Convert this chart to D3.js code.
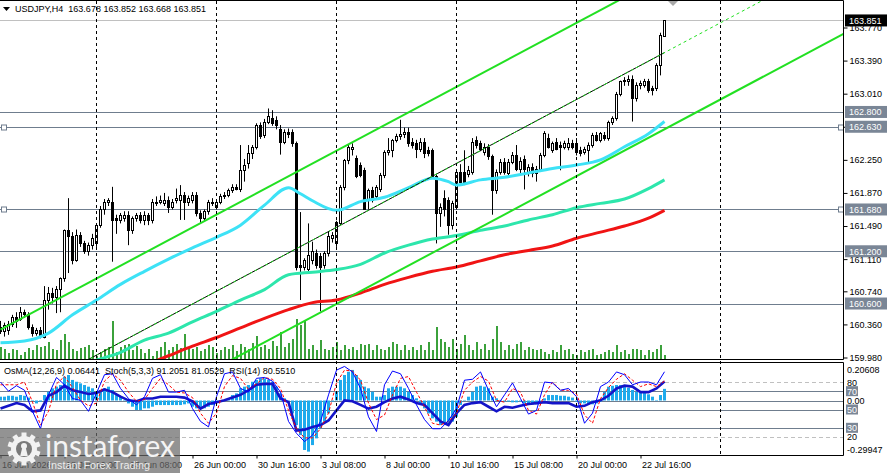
<!DOCTYPE html>
<html lang="en">
<head>
<meta charset="UTF-8">
<title>USDJPY,H4</title>
<script src="https://cdnjs.cloudflare.com/ajax/libs/d3/7.8.5/d3.min.js"></script>
<style>
body { margin: 0; background: #fff; }
svg { display: block; font-family: "Liberation Sans", Arial, sans-serif; font-size: 9px; }
</style>
</head>
<body>
<div id="chart"></div>
<script>
// ---- candles, one per H4 bar (16 Jun 00:00 .. 23 Jul 16:00) ----
var opens = [160.33,160.28,160.30,160.37,160.44,160.42,160.50,160.48,160.33,160.26,160.30,
  160.22,160.64,160.72,160.68,160.77,160.89,161.44,161.37,161.10,161.39,
  161.29,161.20,161.27,161.29,161.50,161.69,161.77,161.77,161.58,161.56,
  161.58,161.62,161.44,161.58,161.62,161.56,161.62,161.56,161.75,161.77,
  161.75,161.79,161.71,161.79,161.79,161.85,161.77,161.79,161.85,161.64,
  161.58,161.66,161.75,161.71,161.77,161.83,161.85,161.90,161.94,161.92,
  162.13,162.21,162.33,162.40,162.65,162.54,162.69,162.73,162.71,162.61,
  162.46,162.57,162.57,162.44,161.04,161.02,161.00,161.10,161.18,161.14,
  161.04,161.18,161.35,161.29,161.52,161.94,162.25,162.38,162.27,162.19,
  162.13,161.79,161.90,161.83,161.92,162.08,162.34,162.36,162.48,162.52,
  162.55,162.57,162.46,162.44,162.38,162.46,162.36,162.36,162.06,161.64,
  161.81,161.79,161.50,161.71,162.11,162.11,162.09,162.11,162.48,162.44,
  162.34,162.40,162.29,161.90,162.11,162.23,162.10,162.23,162.31,162.15,
  162.26,162.10,162.17,162.10,162.15,162.31,162.50,162.36,162.46,162.42,
  162.40,162.40,162.44,162.44,162.36,162.34,162.36,162.42,162.54,162.48,
  162.54,162.50,162.69,162.73,163.01,163.15,163.15,163.18,162.96,163.11,
  163.11,163.15,163.07,163.07,163.34,163.678];
var highs = [160.40,160.38,160.40,160.47,160.50,160.56,160.53,160.50,160.36,160.32,160.33,
  160.80,160.79,160.78,160.80,160.90,161.45,161.81,161.42,161.45,161.42,
  161.32,161.30,161.40,161.52,161.72,161.80,161.81,161.94,161.62,161.64,
  161.66,161.66,161.60,161.64,161.65,161.66,161.64,161.80,161.83,161.84,
  161.87,161.83,161.80,161.92,161.96,161.88,161.84,161.88,161.88,161.67,
  161.68,161.79,161.81,161.80,161.86,161.88,161.92,161.97,161.97,162.42,
  162.26,162.42,162.42,162.67,162.68,162.72,162.84,162.82,162.75,162.65,
  162.60,162.61,162.60,162.46,161.65,161.12,161.52,161.31,161.22,161.18,
  161.20,161.43,161.42,161.55,161.96,162.26,162.42,162.44,162.30,162.22,
  162.16,161.92,161.94,161.96,162.10,162.36,162.50,162.49,162.55,162.71,
  162.62,162.62,162.50,162.48,162.50,162.50,162.40,162.38,162.08,161.75,
  161.90,161.82,161.78,162.14,162.20,162.36,162.18,162.50,162.52,162.47,
  162.44,162.43,162.31,162.14,162.26,162.27,162.26,162.34,162.42,162.28,
  162.30,162.20,162.21,162.18,162.33,162.58,162.55,162.46,162.50,162.46,
  162.47,162.50,162.48,162.50,162.40,162.40,162.45,162.56,162.57,162.57,
  162.57,162.70,162.75,163.03,163.16,163.20,163.22,163.22,163.14,163.16,
  163.18,163.18,163.10,163.36,163.71,163.852];
var lows = [160.25,160.22,160.24,160.33,160.32,160.40,160.44,160.30,160.22,160.23,160.20,
  160.20,160.53,160.60,160.49,160.50,160.85,160.95,161.05,161.08,161.25,
  161.17,161.15,161.22,161.25,161.47,161.62,161.72,161.08,161.40,161.52,
  161.54,161.27,161.40,161.54,161.52,161.50,161.50,161.52,161.72,161.74,
  161.72,161.64,161.68,161.75,161.56,161.56,161.72,161.75,161.60,161.52,
  161.54,161.62,161.72,161.68,161.74,161.80,161.82,161.87,161.90,161.88,
  162.00,162.15,162.26,162.37,162.49,162.50,162.66,162.64,162.60,162.31,
  162.43,162.50,162.40,160.98,160.64,160.98,160.96,161.05,161.00,160.51,
  161.00,161.14,161.30,161.25,161.50,161.90,162.20,162.30,162.04,162.05,
  161.68,161.68,161.76,161.80,161.88,162.04,162.30,162.28,162.45,162.48,
  162.50,162.40,162.38,162.27,162.34,162.27,162.29,162.04,161.29,161.48,
  161.60,161.39,161.45,161.68,161.95,161.96,162.05,162.08,162.38,162.35,
  162.30,162.25,161.62,161.86,162.08,162.08,162.05,162.20,162.12,162.10,
  161.91,162.06,162.05,162.00,162.12,162.28,162.38,162.33,162.36,162.13,
  162.37,162.36,162.37,162.30,162.29,162.31,162.21,162.39,162.46,162.45,
  162.47,162.47,162.65,162.70,162.98,163.10,163.10,162.69,162.92,163.06,
  163.08,163.02,162.99,163.04,163.22,163.668];
var closes = [160.28,160.35,160.37,160.44,160.40,160.50,160.48,160.33,160.26,160.30,160.24,
  160.64,160.72,160.68,160.77,160.89,161.44,161.37,161.10,161.39,161.29,
  161.20,161.27,161.35,161.50,161.69,161.77,161.79,161.56,161.56,161.62,
  161.62,161.44,161.58,161.62,161.56,161.62,161.56,161.77,161.77,161.79,
  161.79,161.71,161.77,161.81,161.85,161.77,161.81,161.85,161.64,161.58,
  161.66,161.77,161.77,161.77,161.83,161.85,161.90,161.94,161.92,162.13,
  162.19,162.33,162.40,162.65,162.52,162.69,162.75,162.67,162.65,162.46,
  162.57,162.55,162.44,161.02,161.02,161.10,161.16,161.20,161.04,161.02,
  161.18,161.37,161.39,161.54,161.94,162.25,162.40,162.40,162.06,162.08,
  161.69,161.90,161.79,161.94,162.08,162.34,162.36,162.48,162.52,162.55,
  162.57,162.44,162.42,162.38,162.46,162.33,162.33,162.06,161.64,161.71,
  161.69,161.50,161.75,162.11,162.00,162.00,162.13,162.46,162.42,162.38,
  162.40,162.29,161.90,162.11,162.23,162.11,162.23,162.31,162.15,162.24,
  162.15,162.17,162.10,162.15,162.31,162.56,162.40,162.44,162.38,162.40,
  162.44,162.44,162.40,162.34,162.33,162.38,162.42,162.54,162.48,162.56,
  162.50,162.69,162.73,163.01,163.15,163.17,163.18,162.96,163.11,163.13,
  163.15,163.05,163.05,163.34,163.68,163.851];

// tick volume per bar
var volumes = [12,10,6,10,9,4,7,11,9,14,12,
  13,17,10,9,19,25,17,10,8,11,
  12,14,9,3,7,10,12,38,7,12,
  14,15,9,13,10,6,10,3,8,12,
  17,9,12,15,11,25,12,10,12,8,
  10,14,12,6,9,12,10,14,8,15,
  12,10,16,23,12,14,10,18,13,27,
  12,16,20,40,34,39,10,14,9,19,
  10,9,12,17,9,14,10,12,9,15,
  14,15,9,14,10,9,12,17,15,9,
  14,9,12,9,14,9,17,9,32,20,
  17,12,20,10,15,24,14,9,17,10,
  15,9,20,33,17,9,14,10,15,17,
  9,12,10,9,10,7,5,9,7,14,
  9,10,5,4,9,7,9,10,4,5,
  7,9,7,14,7,9,5,10,10,9,
  4,9,7,10,14,4];

// OsMA(12,26,9) histogram per bar
var osma = [0.021,0.021,0.026,0.026,0.021,0.030,0.026,0.016,-0.003,-0.016,-0.006,
  0.030,0.048,0.067,0.076,0.085,0.131,0.140,0.113,0.103,0.094,
  0.085,0.076,0.067,0.048,0.058,0.067,0.076,0.058,0.030,0.021,
  0.003,-0.016,-0.034,-0.052,-0.052,-0.043,-0.043,-0.034,-0.025,-0.025,
  -0.025,-0.025,-0.025,-0.025,-0.025,-0.021,-0.016,-0.034,-0.043,-0.043,
  -0.043,-0.034,-0.025,-0.006,-0.006,-0.003,0.012,0.030,0.039,0.067,
  0.076,0.085,0.103,0.113,0.122,0.122,0.113,0.103,0.076,0.039,
  0.012,-0.006,-0.071,-0.135,-0.190,-0.272,-0.281,-0.245,-0.208,-0.153,
  -0.116,-0.071,-0.006,0.048,0.113,0.140,0.158,0.168,0.140,0.113,
  0.076,0.067,0.048,0.021,0.021,0.030,0.067,0.076,0.076,0.076,
  0.067,0.048,0.030,0.012,-0.025,-0.043,-0.071,-0.098,-0.116,-0.135,
  -0.126,-0.135,-0.116,-0.089,-0.025,0.003,0.021,0.048,0.076,0.081,
  0.076,0.067,0.021,0.012,0.003,-0.006,-0.006,-0.010,-0.010,-0.006,
  -0.016,-0.016,-0.021,-0.021,-0.016,0.012,0.030,0.030,0.030,0.026,
  0.026,0.021,0.016,-0.006,-0.016,-0.016,-0.021,-0.021,-0.016,-0.006,
  0.048,0.076,0.081,0.085,0.085,0.076,0.070,0.058,0.048,0.048,
  0.048,0.034,0.021,0.003,0.030,0.064];

// oscillators, read every second bar (bars 0,2,4,...,166)
var stochMain = [80,70,76,71,48,29,66,85,77,62,60,
  48,68,88,89,73,62,55,64,84,88,
  69,69,71,51,37,31,64,89,91,73,
  69,84,85,81,69,37,24,15,22,37,
  66,93,97,91,73,42,26,77,92,89,
  73,55,39,29,29,38,51,82,83,91,
  71,53,66,79,62,45,49,80,79,71,
  73,64,35,46,75,80,91,88,77,80,
  80,77,91.2];
var stochSignal = [77,77,77,80,58,33,48,78,86,74,60,
  54,57,81,89,82,69,59,61,73,84,
  77,69,68,63,46,35,46,75,87,84,
  72,78,85,83,73,49,29,19,19,29,
  46,79,93,92,82,57,39,44,66,84,
  86,69,53,35,33,37,46,71,80,86,
  81,60,58,73,69,49,45,66,80,71,
  71,67,44,35,62,74,83,89,82,75,
  78,75,81.05];
var rsi = [51,54,57,55,48,49,65,69,76,71,69,
  67,68,72,69,64,60,59,62,62,64,
  64,64,63,59,51,56,58,60,63,66,
  71,77,78,78,62,58,27,28,31,33,
  38,49,60,59,55,51,53,58,62,64,
  61,57,55,46,37,33,46,55,57,58,
  53,48,53,52,54,56,57,58,57,57,
  57,53,54,58,60,65,73,76,75,69,
  69,73,80.55];

// moving averages (bar, price)
var maCyanBars = [0,6,12,18,24,30,36,42,48,54,60,66,72,75,78,84,90,96,102,108,112,114,120,126,132,138,144,150,156,162,166];
var maCyan = [160.15,160.17,160.26,160.47,160.64,160.82,160.97,161.11,161.24,161.36,161.50,161.73,161.93,161.86,161.78,161.67,161.77,161.82,161.93,162.04,162.00,161.96,162.02,162.05,162.10,162.15,162.19,162.25,162.40,162.55,162.69];
var maGreenBars = [18,24,30,36,42,48,54,60,66,72,78,84,90,96,102,108,114,120,126,132,138,144,150,156,162,166];
var maGreen = [159.86,159.95,160.04,160.18,160.26,160.39,160.51,160.64,160.76,160.93,160.96,160.99,161.05,161.18,161.27,161.34,161.38,161.44,161.49,161.56,161.62,161.70,161.75,161.80,161.92,162.02];
var maRedBars = [36,42,48,54,60,66,72,78,84,90,96,102,108,114,120,126,132,138,144,150,156,162,166];
var maRed = [159.89,160.00,160.11,160.21,160.32,160.43,160.53,160.61,160.64,160.72,160.82,160.90,160.97,161.02,161.09,161.16,161.21,161.26,161.35,161.42,161.49,161.58,161.67];

// equidistant channel, two anchor bars
var channelBars = [0, 150];
var channelUpper = [160.30, 163.97];
var channelMid = [159.42, 163.09];
var channelLower = [158.54, 162.21];

var levels = [162.800, 162.630, 161.680, 161.200, 160.600];
var markedLevels = [162.630, 161.680];
var lastPrice = 163.851;
var priceTicks = [163.770, 163.390, 163.010, 162.630, 162.250, 161.870, 161.490, 161.110, 160.740, 160.360, 159.980];
var timeTicks = [0, 16, 32, 48, 64, 80, 96, 112, 128, 144, 160];
var timeLabels = ["16 Jun 2026", "18 Jun 16:00", "23 Jun 08:00", "26 Jun 00:00", "30 Jun 16:00", "3 Jul 08:00",
  "8 Jul 00:00", "10 Jul 16:00", "15 Jul 08:00", "20 Jul 00:00", "22 Jul 16:00"];
var separators = [24, 54, 84, 114, 144, 180];

// ---- scales ----
var svg = d3.select("#chart").append("svg").attr("width", 887).attr("height", 473);

var x = d3.scaleLinear().domain([0, 210]).range([0.5, 840.5]);
var y = d3.scaleLinear().domain([159.98, 163.77]).range([357.5, 27.5]);
var yVol = d3.scaleLinear().domain([0, 100]).range([359, 259]);
var yOsc = d3.scaleLinear().domain([0, 100]).range([455.3, 363.7]);
var yOsma = d3.scaleLinear().domain([-0.29947, 0.20608]).range([455, 363]);
var slate = "#6f7d8e";

var defs = svg.append("defs");
defs.append("clipPath").attr("id", "clipMain").append("rect")
    .attr("x", 0).attr("y", 1).attr("width", 843).attr("height", 358);
defs.append("clipPath").attr("id", "clipInd").append("rect")
    .attr("x", 0).attr("y", 363).attr("width", 843).attr("height", 92);

var main = svg.append("g").attr("clip-path", "url(#clipMain)");
var ind = svg.append("g").attr("clip-path", "url(#clipInd)");

// week separators
svg.selectAll(".sep").data(separators).enter().append("line")
    .attr("x1", function(d) { return x(d); }).attr("x2", function(d) { return x(d); })
    .attr("y1", 1).attr("y2", 455)
    .attr("stroke", "#000").attr("stroke-dasharray", "3,3");

// volumes
main.selectAll(".vol").data(volumes).enter().append("line")
    .attr("x1", function(d, i) { return x(i) + 0.5; }).attr("x2", function(d, i) { return x(i) + 0.5; })
    .attr("y1", yVol(0)).attr("y2", function(d) { return yVol(d); })
    .attr("stroke", "#0a8a0a").attr("stroke-width", 1.6);

// bid line + levels
main.append("line").attr("x1", 0).attr("x2", 843)
    .attr("y1", Math.round(y(lastPrice)) + 0.5).attr("y2", Math.round(y(lastPrice)) + 0.5)
    .attr("stroke", "#c0c0c0");
main.selectAll(".lvl").data(levels).enter().append("line")
    .attr("x1", 0).attr("x2", 843)
    .attr("y1", function(d) { return Math.round(y(d)) + 0.5; })
    .attr("y2", function(d) { return Math.round(y(d)) + 0.5; })
    .attr("stroke", slate);
markedLevels.forEach(function(l) {
    [1.5, 838.5].forEach(function(px) {
        svg.append("rect").attr("x", px).attr("y", Math.round(y(l)) - 2)
            .attr("width", 5).attr("height", 5)
            .attr("fill", "#fff").attr("stroke", slate);
    });
});

// candles
var idx = d3.range(closes.length);
main.selectAll(".wick").data(idx).enter().append("line")
    .attr("x1", function(i) { return x(i); }).attr("x2", function(i) { return x(i); })
    .attr("y1", function(i) { return y(highs[i]); }).attr("y2", function(i) { return y(lows[i]); })
    .attr("stroke", "#000");
main.selectAll(".body").data(idx).enter().append("rect")
    .attr("x", function(i) { return x(i) - 1; })
    .attr("y", function(i) { return Math.round(y(Math.max(opens[i], closes[i]))) + 0.5; })
    .attr("width", 2)
    .attr("height", function(i) {
        return Math.max(0, Math.round(y(Math.min(opens[i], closes[i]))) - Math.round(y(Math.max(opens[i], closes[i]))));
    })
    .attr("fill", function(i) { return closes[i] >= opens[i] ? "#fff" : "#000"; })
    .attr("stroke", "#000");

// moving averages
var maLine = d3.line()
    .x(function(d) { return x(d[0]); })
    .y(function(d) { return y(d[1]); })
    .curve(d3.curveMonotoneX);
[[maRedBars, maRed, "#f01414"], [maGreenBars, maGreen, "#2de6ac"], [maCyanBars, maCyan, "#3de2f6"]].forEach(function(m) {
    main.append("path")
        .attr("d", maLine(m[0].map(function(b, k) { return [b, m[1][k]]; })))
        .attr("fill", "none").attr("stroke", m[2]).attr("stroke-width", 3);
});

// channel
var straight = d3.line().x(function(d) { return x(d[0]); }).y(function(d) { return y(d[1]); });
function channelPath(anchors, from, to) {
    var s = d3.scaleLinear().domain(channelBars).range(anchors);
    return straight([[from, s(from)], [to, s(to)]]);
}
main.append("path").attr("d", channelPath(channelUpper, 0, 170))
    .attr("stroke", "#22e022").attr("stroke-width", 2).attr("fill", "none");
main.append("path").attr("d", channelPath(channelLower, 0, 212))
    .attr("stroke", "#22e022").attr("stroke-width", 2).attr("fill", "none");
main.append("path").attr("d", channelPath(channelMid, 0, 166))
    .attr("stroke", "#000").attr("stroke-width", 1).attr("fill", "none");
main.append("path").attr("d", channelPath(channelMid, 0, 200))
    .attr("stroke", "#22e022").attr("stroke-width", 1).attr("stroke-dasharray", "3,3").attr("fill", "none");

// small marker at top
svg.append("path").attr("d", "M668,1 L678,1 L673,6 Z").attr("fill", "#a8a8a8");

// frames
svg.append("path").attr("d", "M0,0.5 H843.5 V359.5 H0 M0,362.5 H843.5 V455.5 H0")
    .attr("fill", "none").attr("stroke", "#000");

// header
svg.append("path").attr("d", "M3,7 L10,7 L6.5,11 Z").attr("fill", "#000");
svg.append("text").attr("x", 15).attr("y", 12).style("white-space", "pre")
    .text("USDJPY,H4  163.678 163.852 163.668 163.851");

// price axis
var pAxis = d3.axisRight(y).tickValues(priceTicks).tickFormat(d3.format(".3f")).tickSize(4).tickPadding(2);
var pg = svg.append("g").attr("transform", "translate(843.5,0)").call(pAxis);
pg.attr("font-size", null).attr("font-family", null);
pg.select(".domain").remove();

// level tags on the price scale
svg.selectAll(".tag").data(levels).enter().append("rect")
    .attr("x", 845).attr("y", function(d) { return y(d) - 6; })
    .attr("width", 42).attr("height", 12).attr("fill", "#7a8696");
svg.selectAll(".tagt").data(levels).enter().append("text")
    .attr("x", 849).attr("y", function(d) { return y(d) + 3.5; })
    .attr("fill", "#fff").text(d3.format(".3f"));
svg.append("rect").attr("x", 845).attr("y", y(lastPrice) - 6).attr("width", 42).attr("height", 12).attr("fill", "#000");
svg.append("text").attr("x", 849).attr("y", y(lastPrice) + 3.5).attr("fill", "#fff").text(d3.format(".3f")(lastPrice));

// ---- indicator window ----
[80, 20].forEach(function(v) {
    ind.append("line").attr("x1", 0).attr("x2", 843)
        .attr("y1", Math.round(yOsc(v)) + 0.5).attr("y2", Math.round(yOsc(v)) + 0.5)
        .attr("stroke", "#c0c0c0").attr("stroke-dasharray", "4,3");
});
[70, 50, 30].forEach(function(v) {
    ind.append("line").attr("x1", 0).attr("x2", 843)
        .attr("y1", Math.round(yOsc(v)) + 0.5).attr("y2", Math.round(yOsc(v)) + 0.5)
        .attr("stroke", slate);
});
ind.append("line").attr("x1", 0).attr("x2", 843)
    .attr("y1", Math.round(yOsma(0)) + 0.5).attr("y2", Math.round(yOsma(0)) + 0.5)
    .attr("stroke", slate);

ind.selectAll(".osma").data(osma).enter().append("rect")
    .attr("x", function(d, i) { return x(i) - 1.5; })
    .attr("y", function(d) { return Math.min(yOsma(0), yOsma(d)); })
    .attr("width", 3)
    .attr("height", function(d) { return Math.abs(yOsma(d) - yOsma(0)); })
    .attr("fill", "#1eaaec");

var oscLine = d3.line().x(function(d, k) { return x(k * 2); }).y(function(d) { return yOsc(d); });
ind.append("path").attr("d", oscLine(rsi)).attr("fill", "none")
    .attr("stroke", "#1414c8").attr("stroke-width", 2.6);
ind.append("path").attr("d", oscLine(stochSignal)).attr("fill", "none")
    .attr("stroke", "#ff0000").attr("stroke-width", 1).attr("stroke-dasharray", "3,2");
ind.append("path").attr("d", oscLine(stochMain)).attr("fill", "none")
    .attr("stroke", "#0000ff").attr("stroke-width", 1);

svg.append("text").attr("x", 4).attr("y", 374).style("white-space", "pre")
    .text("OsMA(12,26,9) 0.06441  Stoch(5,3,3) 91.2051 81.0529  RSI(14) 80.5510");

// indicator scale
svg.append("text").attr("x", 847).attr("y", yOsma(0.20608) + 10).text("0.20608");
svg.append("text").attr("x", 847).attr("y", yOsma(-0.29947) - 2).text("-0.29947");
[80, 20].forEach(function(v) {
    svg.append("text").attr("x", 847).attr("y", yOsc(v) + 3.5).text(v);
});
[70, 50, 30].forEach(function(v) {
    svg.append("rect").attr("x", 846).attr("y", yOsc(v) - 5).attr("width", 12).attr("height", 10).attr("fill", "#7a8696");
    svg.append("text").attr("x", 847).attr("y", yOsc(v) + 3.5).attr("fill", "#fff").text(v);
});
svg.append("text").attr("x", 847).attr("y", yOsma(0) + 3.5).text("0.00");

// time axis
var tAxis = d3.axisBottom(x).tickValues(timeTicks)
    .tickFormat(function(d, i) { return timeLabels[i]; }).tickSize(3).tickPadding(3);
var tg = svg.append("g").attr("transform", "translate(0,455.5)").call(tAxis);
tg.attr("font-size", null).attr("font-family", null);
tg.select(".domain").remove();
tg.selectAll("text").attr("text-anchor", "start").attr("dx", "1");

// watermark
var logo = svg.append("g");
logo.append("rect").attr("x", 0).attr("y", 428).attr("width", 180).attr("height", 45)
    .attr("fill", "#6a6a6a").attr("fill-opacity", 0.72);
var gear = logo.append("g").attr("transform", "translate(24,449)").attr("fill", "#f2f2f2");
d3.range(10).forEach(function(k) {
    gear.append("rect").attr("x", -2.5).attr("y", -16.5).attr("width", 5).attr("height", 6)
        .attr("transform", "rotate(" + (k * 36) + ")");
});
gear.append("circle").attr("r", 13);
gear.append("circle").attr("r", 8).attr("fill", "#7a7a7a");
gear.append("circle").attr("cy", -3).attr("r", 3);
gear.append("path").attr("d", "M-1.8,-1 L1.8,-1 L3.8,7 L-3.8,7 Z");
logo.append("text").attr("x", 45).attr("y", 457)
    .attr("font-family", "Lato, 'Open Sans', sans-serif").attr("font-size", 31)
    .attr("fill", "#f4f4f4").attr("textLength", 130).attr("lengthAdjust", "spacingAndGlyphs")
    .text("instaforex");
logo.append("text").attr("x", 48).attr("y", 469).attr("font-size", 10.5)
    .attr("fill", "#ececec").attr("textLength", 102).attr("lengthAdjust", "spacingAndGlyphs")
    .text("Instant Forex Trading");
</script>
</body>
</html>
